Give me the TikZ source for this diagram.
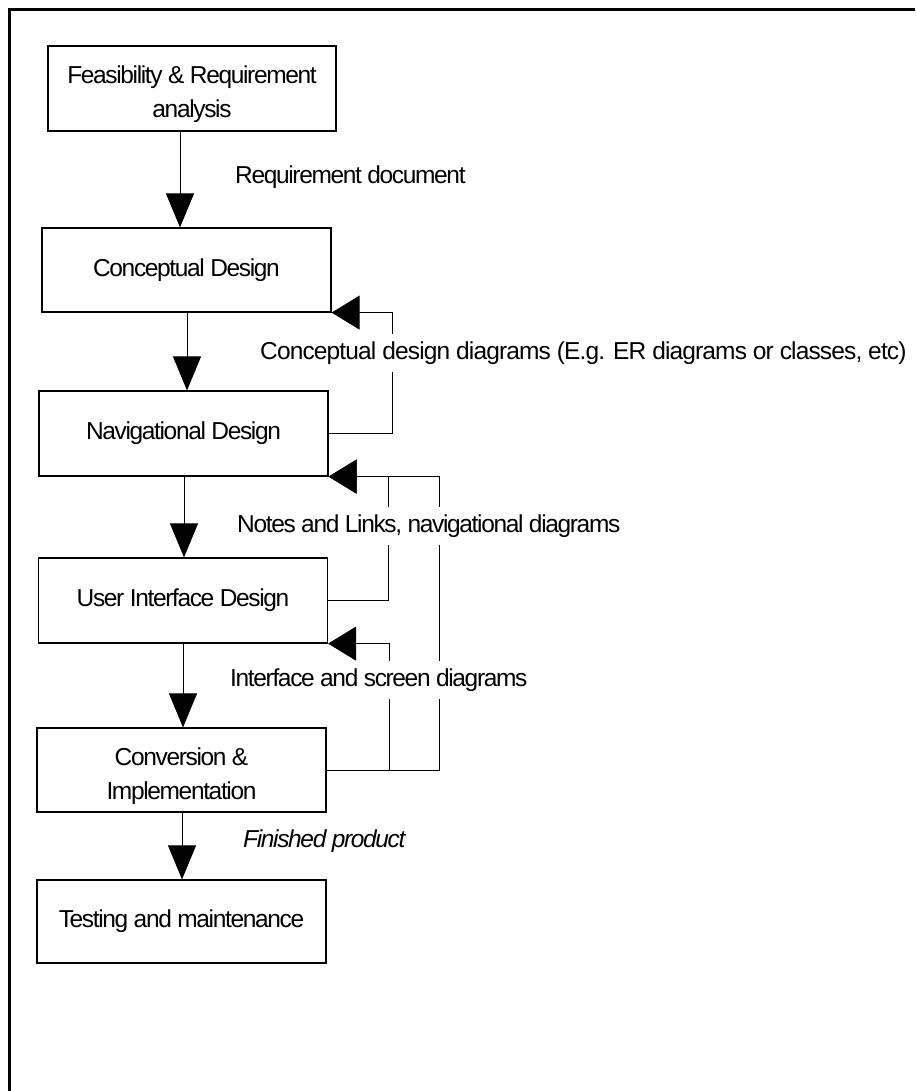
\documentclass[tikz,border=0pt]{standalone}
\usepackage{fontspec}
\setmainfont{Liberation Sans}[LetterSpace=-5.5]
\usetikzlibrary{arrows.meta}
\begin{document}
\begin{tikzpicture}[x=1pt,y=-1pt,
  every node/.style={font=\fontsize{24.5}{34}\selectfont},
  stage/.style={draw, line width=1.2pt, minimum width=289pt, minimum height=85pt,
    inner sep=0pt, align=center},
  flow/.style={line width=0.9pt, -{Triangle[length=34pt,width=28pt]}},
  back/.style={line width=0.9pt, -{Triangle[length=28pt,width=34pt]}},
  tag/.style={anchor=west, fill=white, inner xsep=2pt, inner ysep=0pt,
    text height=18pt, text depth=6pt, minimum height=38pt}]
\useasboundingbox (0,0) rectangle (915,1091);
% page frame
\draw[line width=2.5pt] (9.5,1091) -- (9.5,9.5) -- (915,9.5);

% stages
\node[stage, minimum width=288pt] (b1) at (192,88.5) {\rule{0pt}{30pt}Feasibility \& Requirement\\analysis};
\node[stage, minimum height=84pt] (b2) at (186.5,270) {Conceptual Design};
\node[stage] (b3) at (183.5,433.5) {Navigational Design};
\node[stage] (b4) at (183,600.5) {User Interface Design};
\node[stage, minimum height=84pt] (b5) at (181.5,770) {\rule{0pt}{30pt}Conversion \&\\Implementation};
\node[stage, minimum height=83pt] (b6) at (181.5,921.5) {Testing and maintenance};

% forward flow
\draw[flow] ([xshift=-12pt]b1.south) -- ([xshift=-12pt]b1.south |- b2.north);
\draw[flow] ([xshift=0.5pt]b2.south) -- ([xshift=0.5pt]b2.south |- b3.north);
\draw[flow] ([xshift=0.5pt]b3.south) -- ([xshift=0.5pt]b3.south |- b4.north);
\draw[flow] (b4.south) -- (b4.south |- b5.north);
\draw[flow] ([xshift=0.5pt]b5.south) -- ([xshift=0.5pt]b5.south |- b6.north);

% feedback loops
\draw[back] (b3.east) -| ([xshift=61pt]b2.south east) -- (b2.south east);
\draw[back] (b4.east) -| ([xshift=60pt]b3.south east) -- (b3.south east);
\draw[back] (b5.east) -| ([xshift=110.5pt]b3.south east) -- (b3.south east);
\draw[back] (b5.east) -| ([xshift=61pt]b4.south east) -- (b4.south east);

% labels
\node[tag] (l1) at (233,178) {Requirement document};
\node[tag, font=\fontsize{24.5}{34}\selectfont\addfontfeatures{LetterSpace=-3.5}] (l2) at (258,353) {Conceptual design diagrams (E.g. ER diagrams or classes, etc)};
\node[tag] (l3) at (235,526) {Notes and Links, navigational diagrams};
\node[tag] (l4) at (228,680) {Interface and screen diagrams};
\node[tag, font=\fontsize{24.5}{34}\selectfont\itshape] (l5) at (241,841) {Finished product};
\end{tikzpicture}
\end{document}
